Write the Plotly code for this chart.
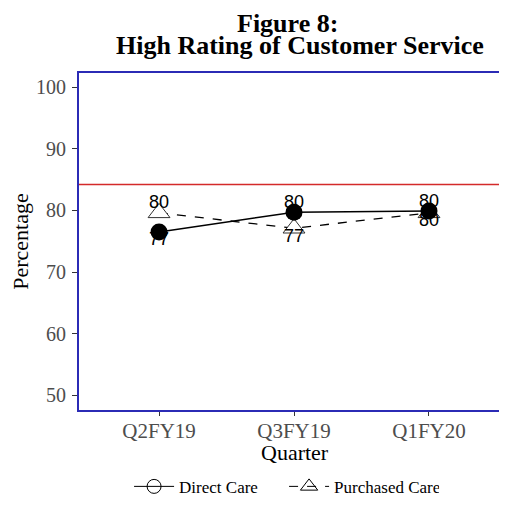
import plotly.graph_objects as go

quarters = ["Q2FY19", "Q3FY19", "Q1FY20"]
direct_care = [76.5, 79.7, 79.9]
purchased_care = [79.6, 77.1, 79.6]
direct_labels = ["77", "80", "80"]
purchased_labels = ["80", "77", "80"]
benchmark = 84.2

x_idx = list(range(len(quarters)))
serif = "Liberation Serif"
sans = "Liberation Sans"

fig = go.Figure()
fig.add_trace(go.Scatter(
    x=x_idx, y=purchased_care, mode="lines+markers",
    line=dict(color="black", width=1.3, dash="dash"),
    marker=dict(symbol="triangle-up", size=19, color="white", line=dict(color="#333", width=1)),
    showlegend=False, hoverinfo="skip", cliponaxis=False))
fig.add_trace(go.Scatter(
    x=x_idx, y=direct_care, mode="lines+markers",
    line=dict(color="black", width=1.5),
    marker=dict(symbol="circle", size=17, color="black"),
    showlegend=False, hoverinfo="skip", cliponaxis=False))
# value labels
fig.add_trace(go.Scatter(
    x=x_idx, y=direct_care, mode="text", text=direct_labels,
    textposition=["bottom center", "top center", "top center"],
    textfont=dict(family=sans, size=18, color="black"),
    showlegend=False, hoverinfo="skip"))
fig.add_trace(go.Scatter(
    x=x_idx, y=purchased_care, mode="text", text=purchased_labels,
    textposition=["top center", "bottom center", "bottom center"],
    textfont=dict(family=sans, size=18, color="black"),
    showlegend=False, hoverinfo="skip"))
# legend entries
fig.add_trace(go.Scatter(
    x=[None], y=[None], mode="lines+markers", name="Direct Care",
    line=dict(color="black", width=1),
    marker=dict(symbol="circle-open", size=14, color="black", line=dict(width=1))))
fig.add_trace(go.Scatter(
    x=[None], y=[None], mode="lines+markers", name="Purchased Care",
    line=dict(color="black", width=1, dash="dash"),
    marker=dict(symbol="triangle-up-open", size=15, color="black", line=dict(width=1))))

fig.add_hline(y=benchmark, line=dict(color="#d42a2a", width=1.5), layer="below")

fig.add_annotation(text="<b>Figure 8:</b>", xref="paper", yref="paper", x=0.486, y=1.148,
                   xanchor="center", yanchor="middle", showarrow=False,
                   font=dict(family=serif, size=26, color="black"))
fig.add_annotation(text="<b>High Rating of Customer Service</b>", xref="paper", yref="paper",
                   x=0.517, y=1.083, xanchor="center", yanchor="middle", showarrow=False,
                   font=dict(family=serif, size=26, color="black"))
fig.add_annotation(text="Quarter", xref="paper", yref="paper", x=0.505, y=-0.127,
                   xanchor="center", yanchor="middle", showarrow=False,
                   font=dict(family=serif, size=22, color="black"))

fig.update_layout(
    width=499, height=499,
    margin=dict(l=71, r=0, t=65, b=97),
    paper_bgcolor="white", plot_bgcolor="white",
    font=dict(family=serif, color="black"),
    legend=dict(orientation="h", x=0.117, xanchor="left", y=-0.228, yanchor="middle",
                entrywidth=100, itemwidth=40,
                font=dict(family=serif, size=17, color="black")),
)
fig.update_xaxes(
    tickvals=x_idx, ticktext=quarters, range=[-0.593, 2.578], automargin=False,
    showline=True, linecolor="#2b2bb5", linewidth=2, mirror=True,
    ticks="outside", ticklen=4, tickcolor="#333", showgrid=False, zeroline=False,
    ticklabelstandoff=-3,
    tickfont=dict(family=serif, size=21, color="#4d4d4d"))
fig.update_yaxes(
    range=[47.6, 102.3], tickvals=[50, 60, 70, 80, 90, 100], automargin=False,
    showline=True, linecolor="#2b2bb5", linewidth=2, mirror=False,
    ticks="outside", ticklen=5, tickcolor="#333", showgrid=False, zeroline=False,
    ticklabelstandoff=2,
    tickfont=dict(family=serif, size=20, color="#4d4d4d"),
    title=dict(text="Percentage", font=dict(family=serif, size=22, color="black"), standoff=5))

fig.write_html("out.html")
